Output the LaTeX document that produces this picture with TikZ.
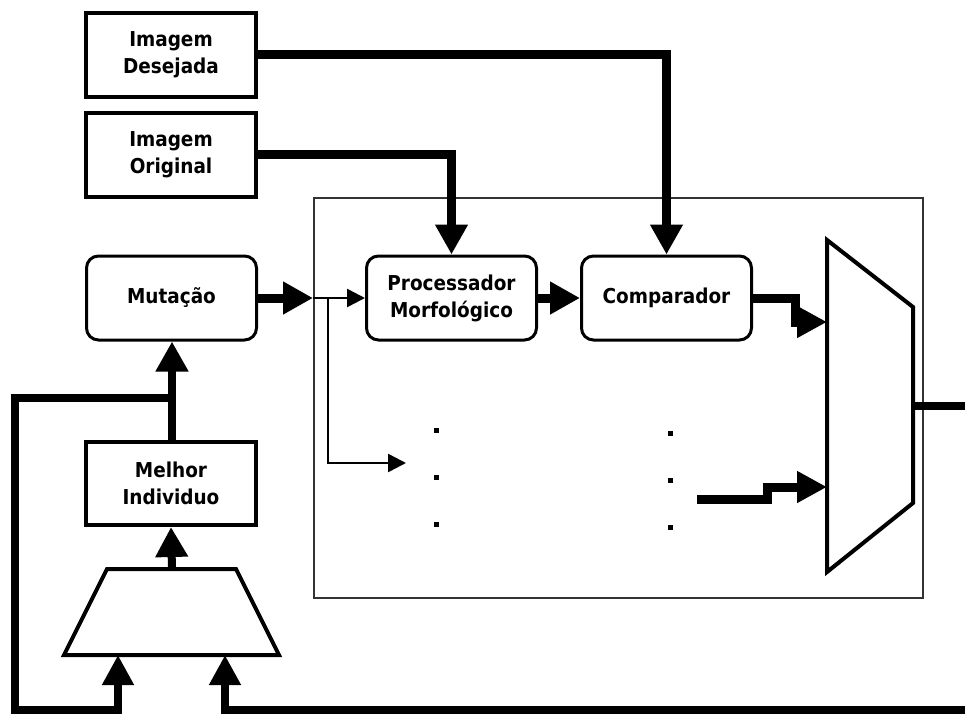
\documentclass[tikz,border=0pt]{standalone}
\usepackage{fontspec}
\setmainfont{DejaVu Sans Condensed}
\usetikzlibrary{arrows.meta}
\begin{document}
\begin{tikzpicture}[x=1pt,y=-1pt,
  txt/.style={font=\fontsize{20.5}{27}\selectfont\bfseries, align=center, inner sep=0pt},
  sqbox/.style={txt, draw, line width=4pt, minimum width=170pt, minimum height=84pt},
  rbox/.style={txt, draw, line width=3pt, rounded corners=12pt, minimum width=170pt, minimum height=84pt},
  thickline/.style={line width=9pt},
  thickarrow/.style={line width=9pt, -{Triangle[length=30pt,width=31pt]}},
  thinarrow/.style={line width=2.5pt, -{Triangle[length=18pt,width=18pt]}},
  muxshape/.style={draw, line width=4pt, fill=white, line join=miter},
  frame/.style={draw=black!80, line width=1.2pt},
  dot/.style={fill=black}
]
\useasboundingbox (0,0) rectangle (965,714);
\clip (0,0) rectangle (965,714);

% frame
\draw[frame] (314,198) rectangle (923,598);

% boxes
\node[sqbox] (des) at (171,55) {Imagem\\Desejada};
\node[sqbox] (orig) at (171,155) {Imagem\\Original};
\node[rbox] (mut) at (171.5,298) {Mutação};
\node[rbox] (proc) at (451.5,298) {Processador\\Morfológico};
\node[rbox] (comp) at (666.5,298) {Comparador};
\node[sqbox, minimum height=83pt] (mel) at (171,483.5) {Melhor\\Individuo};

% right mux
\draw[muxshape] (827,240) -- (913,307) -- (913,503) -- (827,572) -- cycle;
\coordinate (muxin1) at (827,322);
\coordinate (muxin2) at (827,487);
\coordinate (muxout) at (913,406);
\coordinate (rcorner) at (985,406);
\coordinate (rbottom) at (985,710);

% bottom mux (trapezoid)
\draw[muxshape] (107,569) -- (236,569) -- (279,655) -- (64,655) -- cycle;
\coordinate (tout) at (172,569);
\coordinate (tin1) at (118,655);
\coordinate (tin2) at (225,655);

% connectors
\draw[thickarrow] (des.east) -| (comp.north);
\draw[thickarrow] (orig.east) -| (proc.north);

\coordinate (j1) at (313,298);
\coordinate (j2) at (328,298);
\coordinate (br) at (406,463);
\draw[thickarrow] (mut.east) -- (j1);
\draw[thinarrow] (j1) -- (proc.west);
\draw[thinarrow] (j2) |- (br);

\draw[thickarrow] (proc.east) -- (comp.west);
\draw[thickline, -{Triangle[length=30pt,width=30pt]}] (comp.east) -- (795,298) -- (795,322) -- (muxin1);

\coordinate (s2) at (697,499);
\draw[thickline, -{Triangle[length=30pt,width=30pt]}] (s2) -- (767,499) -- (767,487) -- (muxin2);

\draw[line width=8pt, -{Triangle[length=30pt,width=30pt]}] (muxout) -- (rcorner) -- (rbottom) -- (225,710) -- (tin2);

\draw[thickarrow, line width=8pt] (tout) -- (mel.south);
\coordinate (fb) at (172,398);
\draw[thickarrow, line width=8pt] (mel.north -| fb) -- (mut.south -| fb);
\draw[line width=8pt, -{Triangle[length=30pt,width=30pt]}] (fb) -- (15,398) -- (15,710) -- (118,710) -- (tin1);

% dots
\foreach \yy in {430,477,524} \fill[dot] (433.5,\yy-2.5) rectangle ++(5,5);
\foreach \yy in {433,480,527} \fill[dot] (667.5,\yy-2.5) rectangle ++(5,5);
\end{tikzpicture}
\end{document}
